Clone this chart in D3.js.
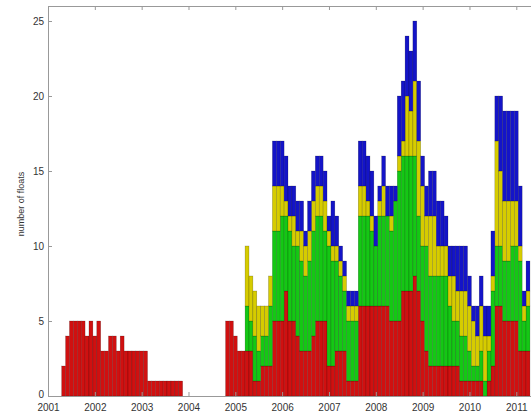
<!DOCTYPE html>
<meta charset="utf-8">
<script src="https://d3js.org/d3.v7.min.js"></script>
<style>
  body { margin: 0; background: #fff; }
  #chart text { font-family: "Liberation Sans", Arial, sans-serif; }
</style>
<div id="chart"></div>
<script>
// monthly counts starting Jan 2001, one array per category
var years = ["2001", "2002", "2003", "2004", "2005", "2006", "2007", "2008", "2009", "2010", "2011"];
var yTicks = [0, 5, 10, 15, 20, 25];

var red = [
  0, 0, 0, 0, 2, 4, 5, 5, 5, 5, 4, 5,
  4, 5, 3, 3, 4, 4, 3, 4, 3, 3, 3, 3,
  3, 3, 1, 1, 1, 1, 1, 1, 1, 1, 1, 0,
  0, 0, 0, 0, 0, 0, 0, 0, 0, 0, 5, 5,
  4, 3, 3, 3, 3, 1, 1, 2, 2, 2, 5, 5,
  5, 7, 5, 5, 4, 3, 3, 3, 4, 5, 5, 5,
  2, 2, 3, 3, 3, 1, 1, 1, 6, 6, 6, 6,
  6, 6, 6, 6, 5, 5, 5, 7, 7, 7, 8, 7,
  5, 3, 2, 2, 2, 2, 2, 2, 2, 2, 1, 1,
  1, 1, 1, 1, 0, 1, 2, 6, 6, 5, 5, 5,
  5, 3, 3, 3
];
var green = [
  0, 0, 0, 0, 0, 0, 0, 0, 0, 0, 0, 0,
  0, 0, 0, 0, 0, 0, 0, 0, 0, 0, 0, 0,
  0, 0, 0, 0, 0, 0, 0, 0, 0, 0, 0, 0,
  0, 0, 0, 0, 0, 0, 0, 0, 0, 0, 0, 0,
  0, 0, 0, 3, 2, 3, 2, 2, 2, 4, 6, 6,
  7, 5, 6, 5, 6, 6, 5, 6, 7, 7, 7, 6,
  8, 7, 6, 5, 4, 4, 4, 4, 6, 6, 6, 5,
  4, 6, 6, 6, 6, 8, 10, 9, 9, 9, 8, 5,
  5, 7, 6, 6, 6, 6, 6, 4, 3, 3, 3, 3,
  2, 1, 1, 2, 1, 2, 5, 4, 4, 4, 4, 5,
  5, 6, 2, 3
];
var yellow = [
  0, 0, 0, 0, 0, 0, 0, 0, 0, 0, 0, 0,
  0, 0, 0, 0, 0, 0, 0, 0, 0, 0, 0, 0,
  0, 0, 0, 0, 0, 0, 0, 0, 0, 0, 0, 0,
  0, 0, 0, 0, 0, 0, 0, 0, 0, 0, 0, 0,
  0, 0, 0, 4, 3, 3, 3, 2, 2, 2, 3, 3,
  2, 1, 1, 2, 1, 2, 2, 2, 2, 2, 2, 2,
  1, 1, 1, 1, 1, 1, 1, 1, 2, 2, 1, 1,
  0, 1, 2, 0, 1, 0, 1, 1, 4, 3, 5, 5,
  4, 2, 4, 4, 2, 2, 2, 2, 3, 2, 3, 3,
  3, 3, 2, 3, 3, 1, 1, 7, 5, 4, 4, 3,
  3, 1, 1, 1
];
var blue = [
  0, 0, 0, 0, 0, 0, 0, 0, 0, 0, 0, 0,
  0, 0, 0, 0, 0, 0, 0, 0, 0, 0, 0, 0,
  0, 0, 0, 0, 0, 0, 0, 0, 0, 0, 0, 0,
  0, 0, 0, 0, 0, 0, 0, 0, 0, 0, 0, 0,
  0, 0, 0, 0, 0, 0, 0, 0, 0, 0, 3, 3,
  3, 3, 2, 2, 2, 2, 1, 2, 2, 2, 2, 2,
  1, 3, 2, 1, 1, 1, 1, 1, 3, 3, 3, 3,
  2, 1, 2, 2, 2, 1, 4, 4, 4, 4, 4, 4,
  2, 2, 3, 3, 3, 3, 2, 2, 2, 3, 3, 3,
  2, 1, 2, 2, 2, 2, 3, 3, 5, 6, 6, 6,
  6, 4, 1, 2
];

var keys = ["red", "green", "yellow", "blue"];
var colors = { red: "#d01010", green: "#14c814", yellow: "#d6cc00", blue: "#1414c8" };

var width = 531, height = 414;
var x0 = 48, monthPx = 3.9025;

var svg = d3.select("#chart").append("svg")
    .attr("width", width)
    .attr("height", height);

// months since Jan 2001 -> px, plot box runs past the right edge
var x = d3.scaleLinear().domain([0, 132]).range([x0, x0 + 132 * monthPx]);
var y = d3.scaleLinear().domain([0, 26]).range([396, 6]);

var rows = red.map(function(d, i) {
  return { m: i, red: d, green: green[i], yellow: yellow[i], blue: blue[i] };
});
var series = d3.stack().keys(keys)(rows);

svg.append("g")
  .selectAll("g")
  .data(series)
  .enter().append("g")
    .attr("fill", function(s) { return colors[s.key]; })
  .selectAll("rect")
  .data(function(s) { return s.filter(function(d) { return d[1] > d[0]; }); })
  .enter().append("rect")
    .attr("x", function(d) { return x(d.data.m - 0.5); })
    .attr("width", x(1) - x(0))
    .attr("y", function(d) { return y(d[1]); })
    .attr("height", function(d) { return y(d[0]) - y(d[1]); })
    .attr("stroke", "rgba(0,0,0,0.35)")
    .attr("stroke-width", 0.5);

var yearTicks = years.map(function(d, i) { return i * 12; });

var gx = svg.append("g")
    .attr("transform", "translate(0,396)")
    .call(d3.axisBottom(x).tickValues(yearTicks)
      .tickFormat(function(d, i) { return years[i]; })
      .tickSize(-4).tickSizeOuter(0).tickPadding(8));

var gt = svg.append("g")
    .attr("transform", "translate(0,6)")
    .call(d3.axisTop(x).tickValues(yearTicks).tickFormat("")
      .tickSize(-4).tickSizeOuter(0));

var gy = svg.append("g")
    .attr("transform", "translate(" + x0 + ",0)")
    .call(d3.axisLeft(y).tickValues(yTicks)
      .tickSize(-4).tickSizeOuter(0).tickPadding(4));

[gx, gt, gy].forEach(function(g) {
  g.selectAll("path, line").attr("stroke", "#999");
  g.selectAll("text").attr("fill", "#333").style("font-size", "10px");
});

// nudge the "0" label up a touch so it clears "2001"
gy.selectAll(".tick text").filter(function(d) { return d === 0; })
    .attr("dy", "0.1em");

svg.append("text")
    .attr("transform", "translate(24,204) rotate(-90)")
    .attr("text-anchor", "middle")
    .style("font-size", "9px")
    .attr("fill", "#333")
    .text("number of floats");
</script>
